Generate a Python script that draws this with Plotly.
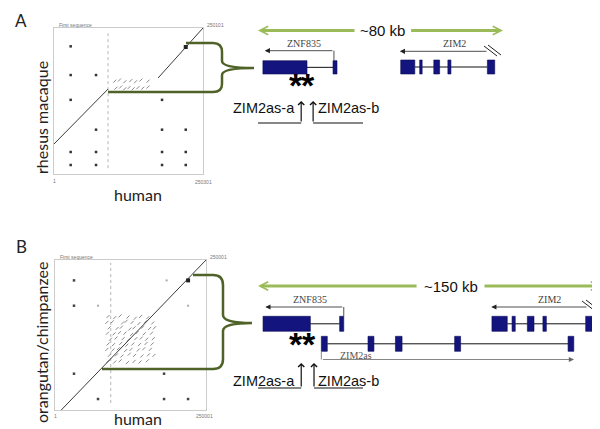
import plotly.graph_objects as go

W, H = 600, 429

# ---------------- dot plot A : human (x) vs rhesus macaque (y), kb ----------------
diag_a_x = [0.0, 90.8, None, 174.8, 250.3]
diag_a_y = [51.4, 145.5, None, 164.4, 250.1]
dots_a_x = [28, 28, 70.6, 28, 70.6, 28, 70.6, 28, 70.6, 181.5, 181.5, 221.3, 181.5, 221.3, 181.5, 221.3]
dots_a_y = [218.7, 169.5, 169.5, 127, 75.9, 37.7, 37.7, 15.4, 15.4, 127, 75.9, 75.9, 37.7, 37.7, 15.4, 15.4]
cluster_a_x = [102, 110, 119, 129, 137, 146, 158, 104, 112, 119, 126, 133, 141, 149, 158]
cluster_a_y = [159, 161, 158, 160, 158, 161, 159, 147, 149, 146, 148, 146, 148, 147, 149]
repeat_a_x = [90.8, 90.8]
repeat_a_y = [10, 241]
hit_a_x, hit_a_y = [221.3], [217.5]

# ---------------- dot plot B : human (x) vs orangutan/chimpanzee (y), kb ----------------
diag_b_x = [10.4, 250.3]
diag_b_y = [0.0, 250.0]
dots_b_x = [31.5, 31.5, 31.5, 71.3, 180.8, 220.6, 180.8]
dots_b_y = [216, 173.8, 60.5, 18.3, 18.3, 18.3, 60.5]
faint_b_x = [71.3, 220.6, 185.0]
faint_b_y = [173.8, 173.8, 216.0]
cluster_b_x = [88, 99, 108, 121, 133, 142, 154,
               86, 95, 112, 118, 128, 139, 150, 162,
               90, 103, 110, 124, 131, 145, 157, 165,
               87, 98, 107, 116, 127, 136, 148, 160,
               92, 101, 113, 122, 134, 143, 152, 163,
               88, 97, 109, 119, 129, 140, 151, 161,
               86, 96, 105, 117, 126, 138, 147, 158,
               90, 102, 111, 123, 132, 144, 155, 164,
               88, 99, 108, 120, 131, 141, 153]
cluster_b_y = [156, 154, 157, 155, 153, 156, 154,
               146, 147, 145, 148, 146, 144, 147, 145,
               137, 136, 138, 135, 137, 138, 136, 137,
               128, 127, 129, 128, 126, 129, 127, 128,
               118, 120, 119, 117, 119, 120, 118, 119,
               110, 109, 111, 108, 110, 109, 111, 110,
               101, 100, 102, 99, 101, 100, 102, 101,
               91, 92, 90, 93, 91, 90, 92, 91,
               81, 80, 82, 79, 81, 80, 82]
repeat_b_x = [92.4, 92.4]
repeat_b_y = [11.7, 245]
hit_b_x, hit_b_y = [220.6], [216.0]

# ---------------- gene models (kb along each region) ----------------
span_a, span_b = 80, 150
znf835_a = [(1.6, 16.0), (24.5, 25.8)]
zim2_a = [(46.6, 51.2), (52.8, 53.6), (57.4, 59.3), (62.0, 63.0), (74.9, 77.3)]
znf835_b = [(2.2, 22.9), (35.7, 37.5)]
zim2as_b = [(27.7, 30.3), (48.1, 50.7), (60.1, 63.0), (86.0, 88.6), (135.6, 138.1)]
zim2_b = [(102.3, 109.0), (111.1, 112.5), (117.8, 120.7), (124.6, 126.1), (143.3, 146.9)]
sites_a = [14.1, 18.0]   # ZIM2as-a, ZIM2as-b
sites_b = [18.9, 24.5]

EXON = "#14147f"
GREEN = "#9bbb59"
OLIVE = "#4f6228"
SANS = "Liberation Sans"
SERIF = "Liberation Serif"
HAND = "Lato"

fig = go.Figure()

# dot plots
for xa, ya, dx, dy, cx, cy, rx, ry, hx, hy in [
    ("x", "y", diag_a_x, diag_a_y, cluster_a_x, cluster_a_y, repeat_a_x, repeat_a_y, hit_a_x, hit_a_y),
    ("x2", "y2", diag_b_x, diag_b_y, cluster_b_x, cluster_b_y, repeat_b_x, repeat_b_y, hit_b_x, hit_b_y),
]:
    fig.add_trace(go.Scatter(x=rx, y=ry, mode="lines", xaxis=xa, yaxis=ya,
                             line=dict(color="#b5b5b5", width=1, dash="dot")))
    fig.add_trace(go.Scatter(x=cx, y=cy, mode="markers", xaxis=xa, yaxis=ya,
                             marker=dict(symbol="line-ne", size=3, line=dict(color="#6a6a6a", width=0.8))))
    fig.add_trace(go.Scatter(x=dx, y=dy, mode="lines", xaxis=xa, yaxis=ya,
                             line=dict(color="#3a3a3a", width=1)))
    fig.add_trace(go.Scatter(x=hx, y=hy, mode="markers", xaxis=xa, yaxis=ya,
                             marker=dict(symbol="square", size=4, color="#222")))

fig.add_trace(go.Scatter(x=dots_a_x, y=dots_a_y, mode="markers", xaxis="x", yaxis="y",
                         marker=dict(symbol="square", size=2.5, color="#333")))
fig.add_trace(go.Scatter(x=dots_b_x, y=dots_b_y, mode="markers", xaxis="x2", yaxis="y2",
                         marker=dict(symbol="square", size=2.5, color="#444")))
fig.add_trace(go.Scatter(x=faint_b_x, y=faint_b_y, mode="markers", xaxis="x2", yaxis="y2",
                         marker=dict(symbol="square", size=2, color="#aaa")))

# placeholders so the schematic axes exist
for xa in ["x3", "x4", "x5"]:
    fig.add_trace(go.Scatter(x=[None], y=[None], xaxis=xa, yaxis="y5", mode="markers"))


def add_gene(exons, xref, y0, y1):
    ym = (y0 + y1) / 2
    fig.add_shape(type="line", xref=xref, yref="y5", x0=exons[0][1], x1=exons[-1][0],
                  y0=ym, y1=ym, line=dict(color="#111", width=1), layer="above")
    for s, e in exons:
        fig.add_shape(type="rect", xref=xref, yref="y5", x0=s, x1=e, y0=y0, y1=y1,
                      fillcolor=EXON, line=dict(color="#0b0b55", width=0.6), layer="above")


def add_tx_arrow(xref, tip, tail, y, color, tick_to=None):
    fig.add_annotation(xref=xref, yref="y5", axref=xref, ayref="y5", x=tip, y=y, ax=tail, ay=y,
                       text="", showarrow=True, arrowhead=2, arrowsize=1.3, arrowwidth=0.8,
                       arrowcolor=color)
    if tick_to is not None:
        fig.add_shape(type="line", xref=xref, yref="y5", x0=tail, x1=tail, y0=y, y1=tick_to,
                      line=dict(color=color, width=0.8))


def add_span(xref, span, gap0, gap1, y, label):
    for tip, tail in [(0, gap0), (span, gap1)]:
        fig.add_annotation(xref=xref, yref="y5", axref=xref, ayref="y5", x=tip, y=y, ax=tail, ay=y,
                           text="", showarrow=True, arrowhead=5, arrowsize=0.55, arrowwidth=3,
                           arrowcolor=GREEN)
    fig.add_annotation(xref=xref, yref="y5", x=(gap0 + gap1) / 2, y=y, text=label, showarrow=False,
                       font=dict(family=SANS, size=15, color="#111"))


def add_sites(xref, sites, star_y, arrow_top, arrow_bot, under_left, under_right, text_y):
    for s in sites:
        fig.add_annotation(xref=xref, yref="y5", x=s, y=star_y, text="<b>*</b>", showarrow=False,
                           xshift=-5, font=dict(family=SANS, size=34, color="#000"))
        fig.add_annotation(xref=xref, yref="y5", axref=xref, ayref="y5", x=s, y=arrow_top,
                           ax=s, ay=arrow_bot, text="", showarrow=True, arrowhead=4, arrowsize=1.0,
                           arrowwidth=1.2, arrowcolor="#111")
    fig.add_shape(type="line", xref=xref, yref="y5", x0=under_left, x1=sites[0], y0=arrow_bot,
                  y1=arrow_bot, line=dict(color="#111", width=1.2))
    fig.add_shape(type="line", xref=xref, yref="y5", x0=sites[1], x1=under_right, y0=arrow_bot,
                  y1=arrow_bot, line=dict(color="#111", width=1.2))
    fig.add_annotation(xref="x5", yref="y5", x=289, y=text_y, text="ZIM2as-a", showarrow=False,
                       xanchor="right", font=dict(family=SANS, size=14.5, color="#111"))
    fig.add_annotation(xref="x5", yref="y5", x=308, y=text_y, text="ZIM2as-b", showarrow=False,
                       xanchor="left", font=dict(family=SANS, size=14.5, color="#111"))


# ---- panel A schematic ----
add_span("x3", span_a, 32.0, 49.5, 22.5, "~80 kb")
add_gene(znf835_a, "x3", 52.7, 66)
add_gene(zim2_a, "x3", 52, 66)
add_tx_arrow("x3", znf835_a[0][0] + 0.6, 24.8, 42.7, "#222", tick_to=52.7)
add_tx_arrow("x3", zim2_a[0][0] - 0.3, 75.1, 43.3, "#222")
fig.add_annotation(xref="x3", yref="y5", x=15.0, y=35, text="ZNF835", showarrow=False,
                   font=dict(family=SERIF, size=10, color="#444"))
fig.add_annotation(xref="x3", yref="y5", x=64.0, y=35.5, text="ZIM2", showarrow=False,
                   font=dict(family=SERIF, size=10, color="#444"))
add_sites("x3", sites_a, 77, 93, 115, -2.7, 34.3, 100)

# ---- panel B schematic ----
add_span("x4", span_b, 70.0, 98.4, 278, "~150 kb")
add_gene(znf835_b, "x4", 308.3, 323.3)
add_gene(zim2_b, "x4", 308.3, 323.3)
add_gene(zim2as_b, "x4", 328.3, 343.3)
add_tx_arrow("x4", znf835_b[0][0] + 1.0, 37.5, 299, "#222", tick_to=308.3)
add_tx_arrow("x4", zim2_b[0][0] - 0.3, 144.3, 299, "#222")
add_tx_arrow("x4", 138.2, 27.7, 351.5, "#666", tick_to=343.3)
fig.add_annotation(xref="x4", yref="y5", x=22.6, y=291.5, text="ZNF835", showarrow=False,
                   font=dict(family=SERIF, size=10, color="#444"))
fig.add_annotation(xref="x4", yref="y5", x=127.6, y=291.5, text="ZIM2", showarrow=False,
                   font=dict(family=SERIF, size=10, color="#444"))
fig.add_annotation(xref="x4", yref="y5", x=42.7, y=347, text="ZIM2as", showarrow=False,
                   font=dict(family=SERIF, size=10, color="#555"))
add_sites("x4", sites_b, 336, 355, 380, -3.6, 45.9, 372.7)

# gene-continues marks (//)
for x0, y0 in [(476, 38), (480, 37), (574, 293), (578, 292)]:
    fig.add_shape(type="line", xref="x5", yref="y5", x0=x0, y0=y0, x1=x0 + 13, y1=y0 + 10,
                  line=dict(color="#222", width=1))

# braces joining the dot plots to the schematics
fig.add_shape(type="path", xref="x5", yref="y5", line=dict(color=OLIVE, width=2.5),
              path="M 178,35 L 205,35 Q 214,35 214,44 L 214,53 Q 214,60 246,60 "
                   "Q 214,60 214,67 L 214,76 Q 214,84 205,84 L 100,84")
fig.add_shape(type="path", xref="x5", yref="y5", line=dict(color=OLIVE, width=2.5),
              path="M 185,267 L 205,267 Q 215,267 215,277 L 215,307 Q 215,315 244,315 "
                   "Q 215,315 215,323 L 215,351 Q 215,361 205,361 L 94,361")

# panel letters and axis labels
for txt, x, y, size, ang in [("A", 13, 12, 17, 0), ("B", 13, 238, 17, 0),
                             ("rhesus macaque", 33, 110, 16, -90),
                             ("orangutan/chimpanzee", 33, 335, 16, -90),
                             ("human", 130, 186, 16, 0), ("human", 130, 410, 16, 0)]:
    fig.add_annotation(xref="x5", yref="y5", x=x, y=y, text=txt, showarrow=False, textangle=ang,
                       font=dict(family=HAND, size=size, color="#222"))

# tiny dot-plot captions
for txt, x, y, anc in [("First sequence", 49, 17, "left"), ("250101", 197, 17, "left"),
                       ("250301", 195, 174, "center"), ("1", 46, 173, "center"),
                       ("First sequence", 50, 249, "left"), ("250001", 200, 249, "left"),
                       ("250001", 196, 408, "center"), ("1", 47, 408, "center")]:
    fig.add_annotation(xref="x5", yref="y5", x=x, y=y, text=txt, showarrow=False, xanchor=anc,
                       font=dict(family=SANS, size=5, color="#777"))

dot_axis = dict(showline=True, mirror=True, linecolor="#cccccc", linewidth=1, showgrid=False,
                zeroline=False, showticklabels=False, ticks="")
hidden = dict(visible=False, showgrid=False, zeroline=False)

fig.update_layout(
    width=W, height=H, margin=dict(l=0, r=0, t=0, b=0),
    paper_bgcolor="white", plot_bgcolor="rgba(0,0,0,0)", showlegend=False,
    xaxis=dict(dot_axis, domain=[46 / W, 195 / W], range=[0, 250.3], anchor="y"),
    yaxis=dict(dot_axis, domain=[1 - 166 / H, 1 - 20 / H], range=[0, 250.1], anchor="x"),
    xaxis2=dict(dot_axis, domain=[47 / W, 198 / W], range=[0, 250.3], anchor="y2"),
    yaxis2=dict(dot_axis, domain=[1 - 402 / H, 1 - 252 / H], range=[0, 250.0], anchor="x2"),
    xaxis3=dict(hidden, domain=[250 / W, 495 / W], range=[0, span_a], anchor="y5"),
    xaxis4=dict(hidden, domain=[250 / W, 593 / W], range=[0, span_b], anchor="y5"),
    xaxis5=dict(hidden, domain=[0, 1], range=[0, W], anchor="y5"),
    yaxis5=dict(hidden, domain=[0, 1], range=[H, 0], anchor="x5"),
)

fig.write_html("out.html")
